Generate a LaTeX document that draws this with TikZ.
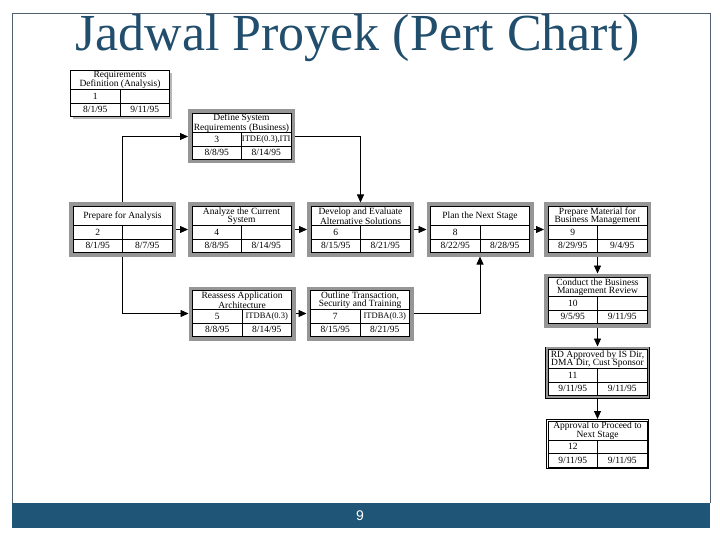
\documentclass[tikz,border=0pt]{standalone}
\usepackage{fontspec}
\setmainfont{Liberation Serif}
\newfontfamily\footfont{Liberation Sans}
\usepackage{xcolor}
\usepackage{tikz}
\usetikzlibrary{calc,arrows.meta,positioning,shadows}
\definecolor{slideBlue}{RGB}{31,86,120}
\definecolor{slideTitle}{RGB}{33,78,108}
\definecolor{slideFrame}{RGB}{80,96,112}
\definecolor{pertGray}{RGB}{150,150,150}

\tikzset{
  pertbox/.style={draw=black, line width=0.6pt, fill=white, minimum width=99pt, minimum height=46pt, inner sep=0pt},
  grayframe/.style={pertbox, preaction={draw=pertGray, line width=8pt}, outer sep=4pt},
  thinframe/.style={pertbox, preaction={draw=black, line width=6pt}, preaction={draw=pertGray, line width=4.6pt}, outer sep=3pt},
  doubleframe/.style={pertbox, preaction={draw=black, line width=4pt}, preaction={draw=white, line width=2.8pt}, outer sep=2pt},
  shadowframe/.style={pertbox, drop shadow={shadow xshift=2.5pt, shadow yshift=-2.5pt, fill=black!40, opacity=0.7}},
  celltext/.style={font=\fontsize{9.5}{8.5}\selectfont, inner sep=0pt},
  restext/.style={font=\fontsize{8.5}{8}\selectfont, inner sep=0pt},
  titletext/.style={celltext, align=center},
  link/.style={draw=black, line width=0.8pt, -{Triangle[length=8pt,width=7pt]}}
}

\newcommand{\pertbox}[8][grayframe]{%
  \node[#1] (#2) at (#3) {};
  \draw[line width=0.6pt] (#3) ++(-49.5,-4) -- ++(99,0) (#3) ++(-49.5,9.5) -- ++(99,0) (#3) ++(0,-4) -- ++(0,27);
  \node[titletext] (#2-title) at ($(#3)+(0,-13.5)$) {#4};
  \node[celltext] (#2-num) at ($(#3)+(-24.75,2.75)$) {#5};
  \node[restext] (#2-res) at ($(#3)+(24.75,2.75)$) {#6};
  \node[celltext] (#2-start) at ($(#3)+(-24.75,16.25)$) {#7};
  \node[celltext] (#2-end) at ($(#3)+(24.75,16.25)$) {#8};
}

\begin{document}
\begin{tikzpicture}[x=1pt,y=-1pt]
\useasboundingbox (0,0) rectangle (720,540);
\fill[slideBlue] (12,503) rectangle (710,528);
\draw[slideFrame, line width=0.8pt] (12,503) -- (12,13) -- (710,13) -- (710,503);
\node[anchor=base west, text=slideTitle, font=\fontsize{52}{52}\selectfont, inner sep=0pt] (slidetitle) at (75,51) {Jadwal Proyek (Pert Chart)};
\node[text=white, font=\footfont\fontsize{14}{14}\selectfont] (pagenum) at (360,516) {9};

\pertbox[shadowframe]{b1}{120,93.5}{Requirements\\Definition (Analysis)}{1}{}{8/1/95}{9/11/95}
\pertbox{b3}{241.5,136.5}{Define System\\Requirements (Business)}{3}{ITDE(0.3),ITI}{8/8/95}{8/14/95}
\pertbox{b2}{122.5,229.5}{Prepare for Analysis}{2}{}{8/1/95}{8/7/95}
\pertbox{b4}{241.5,229.5}{Analyze the Current\\System}{4}{}{8/8/95}{8/14/95}
\pertbox{b6}{360.5,229.5}{Develop and Evaluate\\Alternative Solutions}{6}{}{8/15/95}{8/21/95}
\pertbox{b8}{480,229.5}{Plan the Next Stage}{8}{}{8/22/95}{8/28/95}
\pertbox{b9}{597.5,229.5}{Prepare Material for\\Business Management}{9}{}{8/29/95}{9/4/95}
\pertbox{b5}{242,313.5}{Reassess Application\\Architecture}{5}{ITDBA(0.3)}{8/8/95}{8/14/95}
\pertbox{b7}{360,313.5}{Outline Transaction,\\Security and Training}{7}{ITDBA(0.3)}{8/15/95}{8/21/95}
\pertbox{b10}{597.5,300.5}{Conduct the Business\\Management Review}{10}{}{9/5/95}{9/11/95}
\pertbox[thinframe]{b11}{597.5,372.5}{RD Approved by IS Dir,\\DMA Dir, Cust Sponsor}{11}{}{9/11/95}{9/11/95}
\pertbox[doubleframe]{b12}{597.5,444}{Approval to Proceed to\\Next Stage}{12}{}{9/11/95}{9/11/95}

\draw[link] (b2.north) |- (b3.west);
\draw[link] (b2.south) |- (b5.west);
\draw[link] (b2.east) -- (b4.west);
\draw[link] (b4.east) -- (b6.west);
\draw[link] (b3.east) -| (b6.north);
\draw[link] (b6.east) -- (b8.west);
\draw[link] (b8.east) -- (b9.west);
\draw[link] (b5.east) -- (b7.west);
\draw[link] (b7.east) -| (b8.south);
\draw[link] (b9.south) -- (b10.north);
\draw[link] (b10.south) -- (b11.north);
\draw[link] (b11.south) -- (b12.north);
\end{tikzpicture}
\end{document}
